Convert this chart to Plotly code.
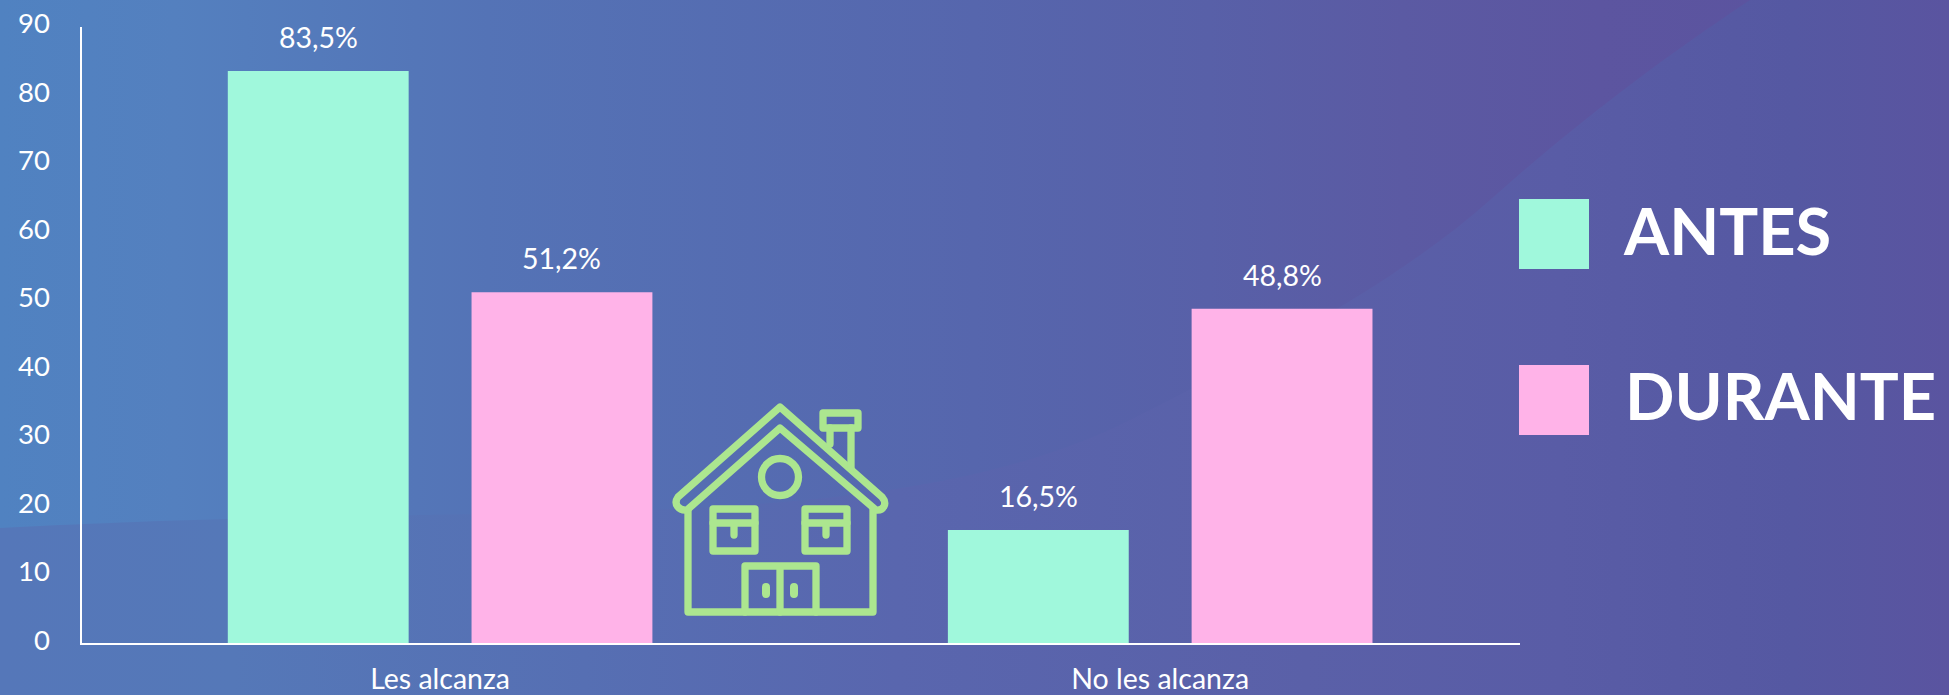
import base64
import plotly.graph_objects as go

W, H = 1949, 695

categories = ["Les alcanza", "No les alcanza"]
series_names = ["ANTES", "DURANTE"]
antes_values = [83.5, 16.5]
durante_values = [51.2, 48.8]
antes_labels = ["83,5%", "16,5%"]
durante_labels = ["51,2%", "48,8%"]
y_ticks = [0, 10, 20, 30, 40, 50, 60, 70, 80, 90]

MINT = "#A0F8DC"
PINK = "#FFB3E8"
GREEN = "#ACE68F"
FONT = "Lato"
BARGAP = 0.323
GROUPGAP = 0.258

bg_svg = f"""<svg xmlns='http://www.w3.org/2000/svg' width='{W}' height='{H}' viewBox='0 0 {W} {H}'>
<defs>
<linearGradient id='u' x1='0' y1='0' x2='1' y2='0'>
<stop offset='0' stop-color='#5082C1'/>
<stop offset='0.09' stop-color='#5480BF'/>
<stop offset='0.25' stop-color='#5473B6'/>
<stop offset='0.5' stop-color='#5666AD'/>
<stop offset='0.62' stop-color='#5860A8'/>
<stop offset='0.72' stop-color='#5B5AA3'/>
<stop offset='0.82' stop-color='#5C55A0'/>
<stop offset='1' stop-color='#5A529E'/>
</linearGradient>
<linearGradient id='l' x1='0' y1='0' x2='1' y2='0'>
<stop offset='0' stop-color='#5577B9'/>
<stop offset='0.12' stop-color='#5578B8'/>
<stop offset='0.3' stop-color='#566FB3'/>
<stop offset='0.46' stop-color='#5966AE'/>
<stop offset='0.67' stop-color='#5A60A8'/>
<stop offset='0.8' stop-color='#595CA6'/>
<stop offset='0.92' stop-color='#5558A2'/>
<stop offset='1' stop-color='#5A54A0'/>
</linearGradient>
</defs>
<rect width='{W}' height='{H}' fill='url(#u)'/>
<path d='M0 528 C120 522 230 518 420 515 C700 510 950 510 1130 420 C1270 350 1400 280 1490 200 C1580 120 1660 60 1750 0 L{W} 0 L{W} {H} L0 {H} Z' fill='url(#l)'/>
</svg>"""
bg_uri = "data:image/svg+xml;base64," + base64.b64encode(bg_svg.encode()).decode()

house_svg = f"""<svg xmlns='http://www.w3.org/2000/svg' width='260' height='260' viewBox='0 0 260 260'>
<g fill='none' stroke='{GREEN}' stroke-width='7.3' stroke-linecap='round' stroke-linejoin='round'>
<path d='M38 130 L38 232 L223 232 L223 130'/>
<path d='M130 27 L232 117 C238 124 233 131 226 130 L130 48 L37 130 C29 131 23 124 28 117 Z'/>
<path d='M180 48 L180 64 M201 48 L201 88'/>
<rect x='173' y='33' width='35' height='15'/>
<circle cx='130' cy='97' r='18.5'/>
<rect x='63' y='129' width='42' height='42'/>
<path d='M63 143 L105 143 M84 143 L84 155'/>
<rect x='155' y='129' width='42' height='42'/>
<path d='M155 143 L197 143 M176 143 L176 155'/>
<path d='M95 232 L95 186 L166 186 L166 232 M130 186 L130 232'/>
<path d='M116 207 L116 214 M144 207 L144 214' stroke-width='8'/>
</g></svg>"""
house_uri = "data:image/svg+xml;base64," + base64.b64encode(house_svg.encode()).decode()

fig = go.Figure()
fig.add_bar(name=series_names[0], x=categories, y=antes_values,
            marker=dict(color=MINT, line_width=0))
fig.add_bar(name=series_names[1], x=categories, y=durante_values,
            marker=dict(color=PINK, line_width=0))


def px(x):
    return x / W


def py(y):
    return 1 - y / H


shapes = []
annotations = []

slot = (1 - BARGAP) / 2
for s, (vals, labels) in enumerate(((antes_values, antes_labels), (durante_values, durante_labels))):
    for c, (v, t) in enumerate(zip(vals, labels)):
        annotations.append(dict(text=t, x=c + (s - 0.5) * slot, y=v, xref="x", yref="y",
                                showarrow=False, yshift=34, xanchor="center", yanchor="middle",
                                font=dict(family=FONT, size=28.5, color="white")))

for name, color, top, cy, left in ((series_names[0], MINT, 199, 230, 1621),
                                   (series_names[1], PINK, 365, 395, 1622.5)):
    shapes.append(dict(type="rect", xref="paper", yref="paper", layer="above", line_width=0,
                       fillcolor=color, x0=px(1519), x1=px(1589), y0=py(top), y1=py(top + 70)))
    annotations.append(dict(text=f"<b>{name}</b>", xref="paper", yref="paper", showarrow=False,
                            x=px(left), y=py(cy), xanchor="left", yanchor="middle",
                            font=dict(family=FONT, size=65, color="white")))

fig.update_layout(
    width=W, height=H, margin=dict(l=0, r=0, t=0, b=0),
    paper_bgcolor="#5567AF", plot_bgcolor="rgba(0,0,0,0)",
    showlegend=False, barmode="group", bargap=BARGAP, bargroupgap=GROUPGAP,
    font=dict(family=FONT, color="white"),
    xaxis=dict(domain=[px(81.5), px(1519.5)], type="category", range=[-0.498, 1.499],
               automargin=False, showgrid=False, ticks="", showline=True, linecolor="white",
               linewidth=2, ticklabelstandoff=10,
               tickfont=dict(family=FONT, size=28.5, color="white")),
    yaxis=dict(domain=[py(643), py(26.5)], range=[0, 90], tickvals=y_ticks, automargin=False,
               showgrid=False, zeroline=False, ticks="", showline=True, linecolor="white",
               linewidth=2, ticklabelstandoff=24, ticklabelshift=-3,
               tickfont=dict(family=FONT, size=27.5, color="white")),
    images=[
        dict(source=bg_uri, xref="paper", yref="paper", x=0, y=1, sizex=1, sizey=1,
             sizing="stretch", xanchor="left", yanchor="top", layer="below"),
        dict(source=house_uri, xref="paper", yref="paper", x=px(650), y=py(380),
             sizex=260 / W, sizey=260 / H, sizing="stretch", xanchor="left", yanchor="top",
             layer="above"),
    ],
    shapes=shapes, annotations=annotations,
)

fig.write_html("out.html", config={"displayModeBar": False},
               post_script="document.body.style.margin='0';document.body.style.overflow='hidden';")
